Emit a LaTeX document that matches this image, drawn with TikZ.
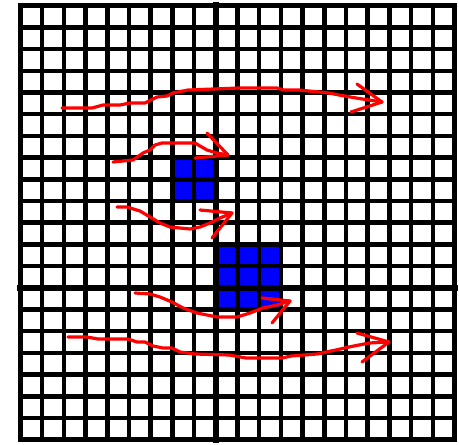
\documentclass[tikz,border=0pt]{standalone}
\begin{document}
\begin{tikzpicture}[x=1pt,y=-1pt,
  gridline/.style={line width=4.5pt,black,line cap=rect},
  thickline/.style={line width=6.5pt,black,line cap=rect},
  bluecell/.style={fill={rgb,255:red,0;green,0;blue,255}},
  redpen/.style={draw={rgb,255:red,255;green,0;blue,0},line width=3.2pt,line join=round,line cap=round}]
\useasboundingbox (0,0) rectangle (459,445);
\fill[white] (0,0) rectangle (459,445);
% blue cells
\foreach \c/\r in {7/7,8/7,7/8,8/8,9/11,10/11,11/11,9/12,10/12,11/12,9/13,10/13,11/13}
  \fill[bluecell] ({20.5+21.7*\c},{5.7+21.7*\r}) rectangle ({20.5+21.7*(\c+1)},{5.7+21.7*(\r+1)});
% grid
\foreach \j in {0,...,20}
  \draw[gridline] ({20.5+21.7*\j},5.7) -- ({20.5+21.7*\j},439.7);
\foreach \i in {0,...,20}
  \draw[gridline] (20.5,{5.7+21.7*\i}) -- (454.5,{5.7+21.7*\i});
\draw[thickline] ({20.5+21.7*9},5.7) -- ({20.5+21.7*9},439.7);
\draw[thickline] (20.5,{5.7+21.7*13}) -- (454.5,{5.7+21.7*13});
% arrow 1
\coordinate (t1) at (382,102);
\draw[redpen] (62,108) -- (92,108) -- (103,105) -- (120,105) -- (130,103) -- (145,103) -- (157,97) -- (167,96) -- (173,93) -- (188,90) -- (239,88) -- (277,88) -- (284,90) -- (299,90) -- (329,93) -- (339,95) -- (356,98) -- (t1);
\draw[redpen] (357,84) -- (t1) -- (351,112);
% arrow 2
\coordinate (t2) at (228,155);
\draw[redpen] (113,162) -- (133,160) -- (143,153) -- (150,150) -- (155,145) -- (162,143) -- (195,143) -- (200,146) -- (207,150) -- (217,153) -- (t2);
\draw[redpen] (207,133) -- (t2) -- (195,158);
% arrow 3
\coordinate (t3) at (232,213);
\draw[redpen] (117,207) -- (127,207) -- (140,211) -- (150,217) -- (160,223) -- (170,227) -- (180,228) -- (190,229) -- (200,227) -- (210,223) -- (220,218) -- (t3);
\draw[redpen] (200,210) -- (t3) -- (212,238);
% arrow 4
\coordinate (t4) at (290,301);
\draw[redpen] (135,293) -- (150,294) -- (160,297) -- (172,302) -- (183,308) -- (197,313) -- (217,317) -- (237,317) -- (250,313) -- (263,308) -- (277,305) -- (t4);
\draw[redpen] (262,298) -- (t4) -- (272,323);
% arrow 5
\coordinate (t5) at (389,342);
\draw[redpen] (68,337) -- (87,337) -- (98,339) -- (128,339) -- (137,342) -- (145,342) -- (153,346) -- (163,348) -- (172,348) -- (180,352) -- (195,354) -- (229,355) -- (246,358) -- (282,358) -- (291,356) -- (317,354) -- (326,352) -- (336,350) -- (349,347) -- (369,343) -- (t5);
\draw[redpen] (357,333) -- (t5) -- (362,362);
\end{tikzpicture}
\end{document}
